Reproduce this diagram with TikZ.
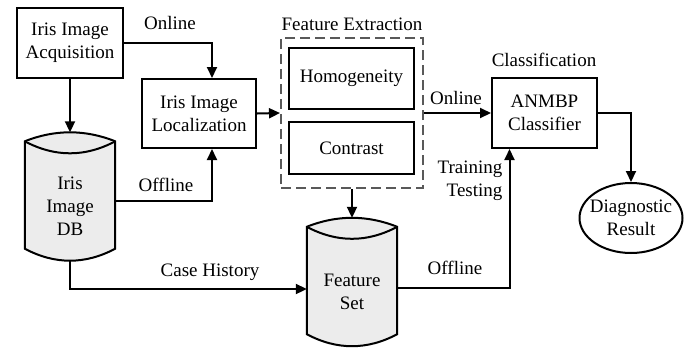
\documentclass[tikz,border=0pt]{standalone}
\usepackage{fontspec}
\setmainfont{Liberation Serif}
\usetikzlibrary{arrows.meta,shapes.geometric}

\definecolor{dbgray}{HTML}{ECECEC}

% database drum: name, centre, text
\newcommand{\drawdb}[3]{%
  \node[dbbox] (#1) at (#2) {};
  \filldraw[dbline] ([yshift=-9pt]#1.north west) .. controls +(30,-12) and +(-30,-12) .. ([yshift=-9pt]#1.north east)
    -- ([yshift=12pt]#1.south east) .. controls +(-30,16) and +(30,16) .. ([yshift=12pt]#1.south west) -- cycle;
  \draw[dbline] ([yshift=-9pt]#1.north west) .. controls +(30,16) and +(-30,16) .. ([yshift=-9pt]#1.north east);
  \node[align=center] (#1txt) at ([yshift=-10pt]#1.center) {#3};
}

\begin{document}
\begin{tikzpicture}[x=1pt, y=-1pt, font=\fontsize{19}{23}\selectfont,
    box/.style={draw, line width=2pt, align=center, inner sep=0pt},
    dbbox/.style={rectangle, minimum width=90pt, minimum height=128pt, inner sep=0pt},
    dbline/.style={draw, fill=dbgray, line width=2pt},
    lbl/.style={inner sep=0pt},
    arr/.style={line width=2pt, -{Triangle[length=11pt, width=10pt]}}]
  \useasboundingbox (0,0) rectangle (691,349);

  % boxes
  \node[box, minimum width=106pt, minimum height=70pt] (acq) at (70,43) {Iris Image\\Acquisition};
  \node[box, minimum width=114pt, minimum height=69pt] (loc) at (199,113.5) {Iris Image\\Localization};
  \drawdb{db}{70,196.5}{Iris\\Image\\DB}
  \node[draw=black!65, dashed, dash pattern=on 10pt off 5pt, line width=2pt,
        minimum width=142pt, minimum height=150pt] (fe) at (352,113) {};
  \node[box, minimum width=125pt, minimum height=61pt] (homo) at (351.5,78.5) {Homogeneity};
  \node[box, minimum width=125pt, minimum height=52pt] (contr) at (351.5,148) {Contrast};
  \drawdb{fs}{352,282}{Feature\\Set}
  \node[box, minimum width=105pt, minimum height=70pt] (cls) at (544.5,113) {ANMBP\\Classifier};
  \node[ellipse, box, inner sep=-6pt, minimum width=103pt, minimum height=70pt] (res) at (631,218) {Diagnostic\\Result};

  % labels
  \node[lbl] (onl1) at (170,23) {Online};
  \node[lbl] (offl1) at (166,185) {Offline};
  \node[lbl] (case) at (210,272) {Case History};
  \node[lbl] (fetitle) at (352,24) {Feature Extraction};
  \node[lbl] (onl2) at (456,98) {Online};
  \node[lbl, align=right] (trte) at (470,181) {Training\\Testing};
  \node[lbl] (offl2) at (455,268) {Offline};
  \node[lbl] (clstitle) at (544,60) {Classification};

  % connectors
  \draw[arr] (acq.south) -- (db.north);
  \draw[arr] (acq.east) -| ([xshift=13pt]loc.north);
  \draw[arr] ([yshift=-4pt]db.east) -| ([xshift=13pt]loc.south);
  \draw[arr] (db.south) |- ([yshift=-7pt]fs.west);
  \draw[arr] (loc.east) -- (fe.west);
  \draw[arr] (fe.east) -- (cls.west);
  \draw[arr] (fe.south) -- (fs.north);
  \draw[arr] ([yshift=-6pt]fs.east) -| ([xshift=-35pt]cls.south);
  \draw[arr] (cls.east) -| (res.north);
\end{tikzpicture}
\end{document}
